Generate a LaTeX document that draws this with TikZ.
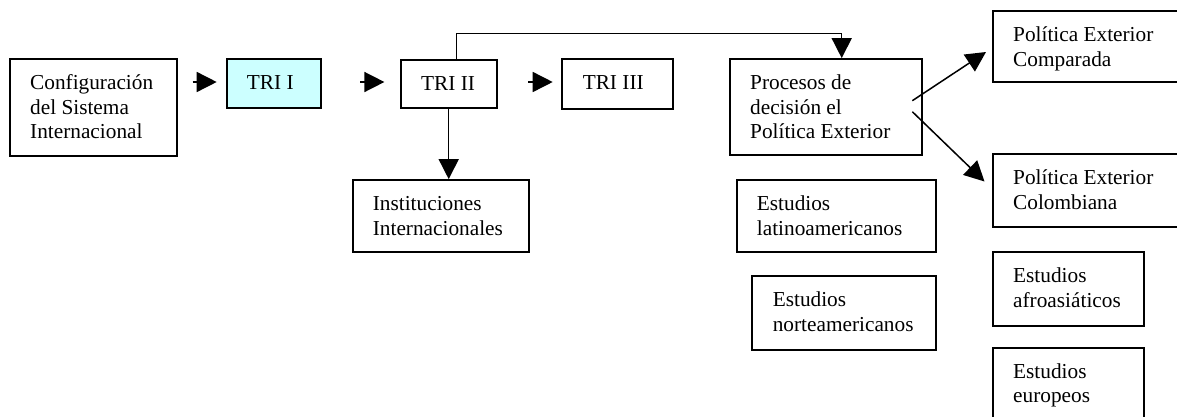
\documentclass[tikz,border=0pt]{standalone}
\usepackage{fontspec}
\setmainfont{Liberation Serif}
\usetikzlibrary{arrows.meta,calc,fit}
\begin{document}
\begin{tikzpicture}[x=0.5634pt,y=-0.5634pt,
  boxnode/.style={draw, line width=1pt, inner sep=0pt, rectangle},
  txt/.style={anchor=north west, inner sep=0pt, align=left, font=\fontsize{12pt}{13.8pt}\selectfont},
  arr/.style={-{Triangle[length=11.3pt,width=11.3pt]}, line width=0.85pt}]
\useasboundingbox (0,0) rectangle (1177,416);
\clip (0,0) rectangle (1177,416);
% boxes
\node[boxnode, fit={(10,59) (176.7,156)}] (cfg) {};
\node[boxnode, fill={rgb,255:red,204;green,255;blue,255}, fit={(226.7,59) (321,108.3)}] (tri1) {};
\node[boxnode, fit={(400.7,60) (496.7,108.3)}] (tri2) {};
\node[boxnode, fit={(562.3,59) (673.3,108.7)}] (tri3) {};
\node[boxnode, fit={(352.7,180) (529,252.3)}] (inst) {};
\node[boxnode, fit={(730,59) (922.3,155)}] (proc) {};
\node[boxnode, fit={(736.7,180) (935.7,252.3)}] (lat) {};
\node[boxnode, fit={(752.3,276.3) (935.7,349.7)}] (nor) {};
\node[boxnode, fit={(992.7,11) (1190,81.7)}] (comp) {};
\node[boxnode, fit={(992.7,154) (1190,227.3)}] (col) {};
\node[boxnode, fit={(992.7,252.3) (1143.7,325.7)}] (afro) {};
\node[boxnode, fit={(992.7,347.7) (1143.7,430)}] (eur) {};
% texts
\node[txt] (cfgt) at ($(cfg.north west)+(20.7,13.9)$) {\strut Configuración\\del Sistema\\Internacional};
\node[txt] (tri1t) at ($(tri1.north west)+(20.7,13.9)$) {\strut TRI I};
\node[txt] (tri2t) at ($(tri2.north west)+(21,13.4)$) {\strut TRI II};
\node[txt] (tri3t) at ($(tri3.north west)+(21,13.9)$) {\strut TRI III};
\node[txt] (instt) at ($(inst.north west)+(20.7,13.9)$) {\strut Instituciones\\Internacionales};
\node[txt] (proct) at ($(proc.north west)+(20.7,13.9)$) {\strut Procesos de\\decisión el\\Política Exterior};
\node[txt] (latt) at ($(lat.north west)+(20.7,13.9)$) {\strut Estudios\\latinoamericanos};
\node[txt] (nort) at ($(nor.north west)+(21,13.9)$) {\strut Estudios\\norteamericanos};
\node[txt] (compt) at ($(comp.north west)+(21,13.9)$) {\strut Política Exterior\\Comparada};
\node[txt] (colt) at ($(col.north west)+(21,13.9)$) {\strut Política Exterior\\Colombiana};
\node[txt] (afrot) at ($(afro.north west)+(21,13.9)$) {\strut Estudios\\afroasiáticos};
\node[txt] (eurt) at ($(eur.north west)+(21,13.9)$) {\strut Estudios\\europeos};
% free arrow end points
\coordinate (a1s) at (192.7,82);
\coordinate (a1e) at (216.7,82);
\coordinate (a2s) at (360,82);
\coordinate (a2e) at (384.4,82);
\coordinate (a3s) at (528.3,82);
\coordinate (a3e) at (552.7,82);
\coordinate (topr) at (841.7,33.3);
\coordinate (d1s) at (912.3,100.7);
\coordinate (d1e) at (986,52);
\coordinate (d2s) at (912.3,111.7);
\coordinate (d2e) at (984.5,181.5);
% connectors
\draw[arr] (a1s) -- (a1e);
\draw[arr] (a2s) -- (a2e);
\draw[arr] (a3s) -- (a3e);
\draw[arr] (tri2.south) -- (inst.north -| tri2.south);
\draw[arr] ($(tri2.north)+(8,0)$) |- (topr) -- (topr |- proc.north);
\draw[arr] (d1s) -- (d1e);
\draw[arr] (d2s) -- (d2e);
\end{tikzpicture}
\end{document}
